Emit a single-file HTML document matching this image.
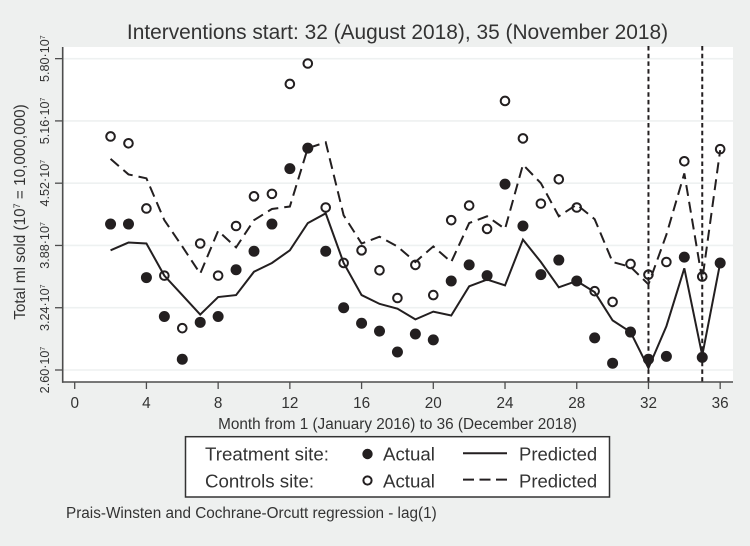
<!DOCTYPE html>
<html lang="en">
<head>
<meta charset="utf-8">
<title>Interventions chart</title>
<style>
html,body{margin:0;padding:0;background:#eef0ef;}
svg{display:block;font-family:"Liberation Sans",sans-serif;}
text{fill:#333333;}
</style>
</head>
<body>
<svg id="chart" xmlns="http://www.w3.org/2000/svg" width="750" height="546" viewBox="0 0 750 546">
  <rect x="0" y="0" width="750" height="546" fill="#eef0ef"/>
  <rect x="63" y="47" width="670" height="335" fill="#ffffff"/>
  <g id="grid"></g>
  <g id="vlines"></g>
  <g id="series"></g>
  <g id="axes"></g>
  <text x="397.5" y="39" text-anchor="middle" font-size="20.9px">Interventions start: 32 (August 2018), 35 (November 2018)</text>
  <text x="397.5" y="429" text-anchor="middle" font-size="15.3px">Month from 1 (January 2016) to 36 (December 2018)</text>
  <text transform="translate(25,212) rotate(-90)" text-anchor="middle" font-size="15.3px">Total ml sold (10<tspan font-size="9px" dy="-5">7</tspan><tspan dy="5"> = 10,000,000)</tspan></text>
  <g>
    <rect x="185.5" y="436.7" width="424" height="60.3" fill="#ffffff" stroke="#333333" stroke-width="1.5"/>
    <text x="205" y="460.7" font-size="18.7px">Treatment site:</text>
    <text x="205" y="487.3" font-size="18.7px">Controls site:</text>
    <circle cx="367.5" cy="454" r="5.2" fill="#231f20"/>
    <circle cx="367.5" cy="480.5" r="4.1" fill="none" stroke="#231f20" stroke-width="2"/>
    <text x="383" y="460.7" font-size="18.7px">Actual</text>
    <text x="383" y="487.3" font-size="18.7px">Actual</text>
    <line x1="463" y1="453.3" x2="507" y2="453.3" stroke="#231f20" stroke-width="2"/>
    <line x1="463" y1="479.6" x2="507" y2="479.6" stroke="#231f20" stroke-width="2" stroke-dasharray="11 5.5"/>
    <text x="519" y="460.7" font-size="18.5px">Predicted</text>
    <text x="519" y="487.3" font-size="18.5px">Predicted</text>
  </g>
  <text x="66" y="518" font-size="15.3px">Prais-Winsten and Cochrane-Orcutt regression - lag(1)</text>
</svg>
<script>
var months = [2,3,4,5,6,7,8,9,10,11,12,13,14,15,16,17,18,19,20,21,22,23,24,25,26,27,28,29,30,31,32,33,34,35,36];
var treatmentActual = [4.10,4.10,3.55,3.15,2.71,3.09,3.15,3.63,3.82,4.10,4.67,4.88,3.82,3.24,3.08,3.00,2.785,2.97,2.91,3.515,3.68,3.57,4.51,4.08,3.58,3.73,3.515,2.93,2.67,2.99,2.71,2.74,3.76,2.73,3.70];
var controlsActual = [5.00,4.93,4.26,3.57,3.03,3.90,3.57,4.08,4.385,4.41,5.54,5.75,4.27,3.70,3.83,3.625,3.34,3.68,3.37,4.14,4.29,4.05,5.365,4.98,4.31,4.56,4.27,3.41,3.30,3.69,3.58,3.71,4.745,3.56,4.87];
var treatmentPredicted = [3.83,3.91,3.90,3.57,3.37,3.17,3.35,3.37,3.61,3.70,3.83,4.11,4.21,3.70,3.37,3.28,3.23,3.12,3.20,3.16,3.46,3.53,3.47,3.94,3.71,3.45,3.515,3.40,3.11,2.99,2.62,3.05,3.645,2.75,3.70];
var controlsPredicted = [4.77,4.61,4.57,4.14,3.87,3.59,4.03,3.86,4.14,4.255,4.28,4.88,4.94,4.19,3.90,3.97,3.87,3.71,3.87,3.71,4.11,4.18,4.05,4.71,4.52,4.18,4.30,4.15,3.71,3.66,3.48,3.99,4.62,3.525,4.86];
var xTicks = [0,4,8,12,16,20,24,28,32,36];
var yTicks = [2.60,3.24,3.88,4.52,5.16,5.80];
var interventionMonths = [32,35];

var NS = 'http://www.w3.org/2000/svg';
var INK = '#231f20';
function xScale(m) { return 74.7 + m * 17.93; }
function yScale(v) { return 370 - (v - 2.6) * 97.3; }
function make(tag, parent, attrs) {
  var el = document.createElementNS(NS, tag);
  for (var k in attrs) { el.setAttribute(k, attrs[k]); }
  parent.appendChild(el);
  return el;
}
function pathFrom(values) {
  return values.map(function (v, i) {
    return (i ? 'L' : 'M') + xScale(months[i]).toFixed(2) + ' ' + yScale(v).toFixed(2);
  }).join(' ');
}

var grid = document.getElementById('grid');
var axes = document.getElementById('axes');
var vlines = document.getElementById('vlines');
var series = document.getElementById('series');

yTicks.forEach(function (t) {
  var y = yScale(t);
  var g = make('line', grid, { x1: 63, x2: 733, y1: y, y2: y, stroke: '#eef1f1', 'stroke-width': 1.6 });
  
  
  var tick = make('line', axes, { x1: 55, x2: 62.5, y1: y, y2: y, stroke: '#4d4d4d', 'stroke-width': 1.3 });
  
  
  var label = make('text', axes, { transform: 'translate(49,' + y + ') rotate(-90)', 'text-anchor': 'middle', 'font-size': '12.6px' });
  
  
  label.textContent = t.toFixed(2) + '\u00B710';
  var sup = make('tspan', label, { 'font-size': '7px', dy: '-4' });
  sup.textContent = '7';
});

xTicks.forEach(function (t) {
  var x = xScale(t);
  var tick = make('line', axes, { x1: x, x2: x, y1: 382, y2: 389, stroke: '#4d4d4d', 'stroke-width': 1.3 });
  
  
  var label = make('text', axes, { x: x, y: 408, 'text-anchor': 'middle', 'font-size': '15.3px' });
  
  
  label.textContent = t;
});

var yAxis = make('line', axes, { x1: 62.7, x2: 62.7, y1: 47, y2: 382.7, stroke: '#4d4d4d', 'stroke-width': 1.6 });


var xAxis = make('line', axes, { x1: 62, x2: 733, y1: 382, y2: 382, stroke: '#4d4d4d', 'stroke-width': 1.6 });



var predT = make('path', series, { d: pathFrom(treatmentPredicted), fill: 'none', stroke: INK, 'stroke-width': 2, 'stroke-linejoin': 'miter' });


var predC = make('path', series, { d: pathFrom(controlsPredicted), fill: 'none', stroke: INK, 'stroke-width': 2, 'stroke-dasharray': '11 6' });



treatmentActual.forEach(function (v, i) {
  var c = make('circle', series, { cx: xScale(months[i]), cy: yScale(v), r: 5.5, fill: INK });
  
  
});
controlsActual.forEach(function (v, i) {
  var c = make('circle', series, { cx: xScale(months[i]), cy: yScale(v), r: 4.3, fill: 'none', stroke: INK, 'stroke-width': 2 });
  
  
});

interventionMonths.forEach(function (m) {
  var x = xScale(m);
  var l = make('line', vlines, { x1: x, x2: x, y1: 46, y2: 382, stroke: INK, 'stroke-width': 2, 'stroke-dasharray': '4.5 3.2' });
  
  
});
</script>
</body>
</html>
